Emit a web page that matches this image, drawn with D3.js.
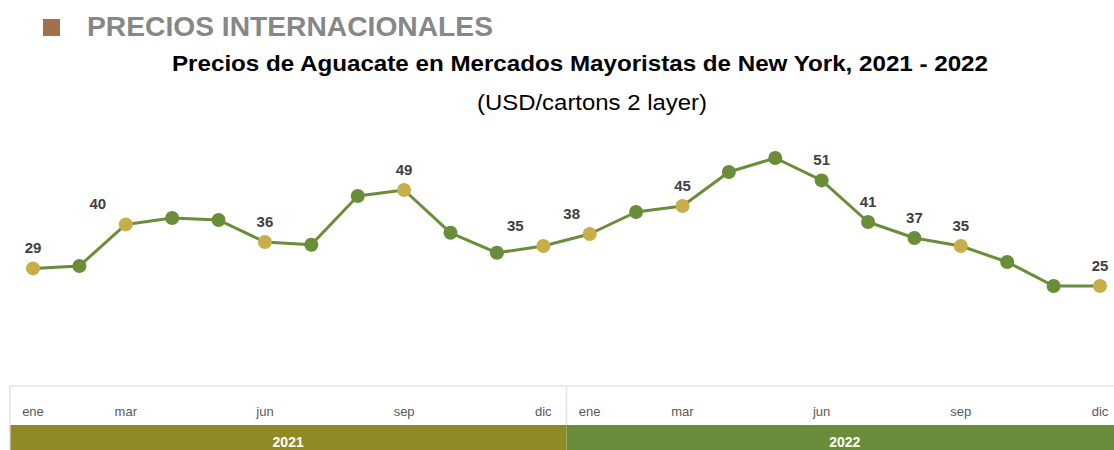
<!DOCTYPE html>
<html>
<head>
<meta charset="utf-8">
<script src="https://cdn.jsdelivr.net/npm/d3@7"></script>
<style>
  body { margin: 0; background: #fff; }
  svg { display: block; font-family: "Liberation Sans", Arial, sans-serif; }
</style>
</head>
<body>
<script>
const width = 1114;
const height = 450;

// data
const years = ['2021', '2022'];
const months = ['ene', 'feb', 'mar', 'abr', 'may', 'jun', 'jul', 'ago', 'sep', 'oct', 'nov', 'dic'];
const shownMonths = ['ene', 'mar', 'jun', 'sep', 'dic'];
const prices2021 = [29.4, 30, 40.4, 42, 41.5, 36, 35.3, 47.5, 49, 38.3, 33.3, 35];
const prices2022 = [38, 43.5, 45, 53.5, 57, 51.4, 41, 37, 35, 31, 25, 25];
// points drawn in gold, and the ones that carry a value label
const highlighted = [0, 2, 5, 8, 11, 12, 14, 20, 23];
const labelled = [0, 2, 5, 8, 11, 12, 14, 17, 18, 19, 20, 23];

const prices = prices2021.concat(prices2022);
const data = prices.map((v, i) => ({
  i: i,
  value: v,
  month: months[i % 12],
  year: years[Math.floor(i / 12)]
}));

// small nudges for labels that sit to the left of their point
const labelDx = { 2: -28, 11: -28, 12: -18 };

const green = '#6a8d3a';
const gold = '#c8ae4b';

const svg = d3.select('body').append('svg')
  .attr('width', width)
  .attr('height', height);

const x = d3.scalePoint()
  .domain(d3.range(data.length))
  .range([33, 1100]);

const y = d3.scaleLinear()
  .domain([0, 60])
  .range([386, 146]);

const step = x.step();

// header
svg.append('rect')
  .attr('x', 43).attr('y', 19)
  .attr('width', 17).attr('height', 17)
  .attr('fill', '#a0714a');

svg.append('text')
  .attr('x', 87).attr('y', 36)
  .attr('font-size', 27).attr('font-weight', 'bold')
  .attr('fill', '#878787')
  .attr('textLength', 406).attr('lengthAdjust', 'spacingAndGlyphs')
  .text('PRECIOS INTERNACIONALES');

svg.append('text')
  .attr('x', 580).attr('y', 71)
  .attr('text-anchor', 'middle')
  .attr('font-size', 22).attr('font-weight', 'bold')
  .attr('fill', '#000')
  .attr('textLength', 816).attr('lengthAdjust', 'spacingAndGlyphs')
  .text('Precios de Aguacate en Mercados Mayoristas de New York, 2021 - 2022');

svg.append('text')
  .attr('x', 592).attr('y', 110)
  .attr('text-anchor', 'middle')
  .attr('font-size', 22)
  .attr('fill', '#000')
  .attr('textLength', 230).attr('lengthAdjust', 'spacingAndGlyphs')
  .text('(USD/cartons 2 layer)');

// bottom category table
const axisTop = y(0);
const bandTop = 425;
const left = x(0) - step / 2;
const right = x(data.length - 1) + step / 2;
const split = (x(11) + x(12)) / 2;

const axis = svg.append('g').attr('class', 'axis');

axis.selectAll('.year-band')
  .data(years)
  .enter().append('rect')
    .attr('class', 'year-band')
    .attr('x', (d, k) => k === 0 ? left : split)
    .attr('y', bandTop)
    .attr('width', (d, k) => k === 0 ? split - left : right - split)
    .attr('height', height - bandTop)
    .attr('fill', (d, k) => k === 0 ? '#8f8a24' : '#6a8c3b');

axis.selectAll('.year-label')
  .data(years)
  .enter().append('text')
    .attr('class', 'year-label')
    .attr('x', (d, k) => k === 0 ? (left + split) / 2 : (split + right) / 2)
    .attr('y', 447)
    .attr('text-anchor', 'middle')
    .attr('font-size', 14).attr('font-weight', 'bold')
    .attr('fill', '#fff')
    .text(d => d);

axis.append('line')
  .attr('x1', left).attr('x2', width)
  .attr('y1', axisTop).attr('y2', axisTop)
  .attr('stroke', '#e3e3e3').attr('stroke-width', 1.5);

axis.append('line')
  .attr('x1', left).attr('x2', left)
  .attr('y1', axisTop).attr('y2', height)
  .attr('stroke', '#e3e3e3').attr('stroke-width', 1.5);

axis.append('line')
  .attr('x1', split).attr('x2', split)
  .attr('y1', axisTop).attr('y2', bandTop)
  .attr('stroke', '#e3e3e3').attr('stroke-width', 1.5);

axis.selectAll('.month')
  .data(data.filter(d => shownMonths.includes(d.month)))
  .enter().append('text')
    .attr('class', 'month')
    .attr('x', d => x(d.i))
    .attr('y', 416)
    .attr('text-anchor', 'middle')
    .attr('font-size', 13)
    .attr('fill', '#595959')
    .text(d => d.month);

// the series
const line = d3.line()
  .x(d => x(d.i))
  .y(d => y(d.value));

svg.append('path')
  .datum(data)
  .attr('d', line)
  .attr('fill', 'none')
  .attr('stroke', green)
  .attr('stroke-width', 3)
  .attr('stroke-linejoin', 'round');

svg.append('g')
  .selectAll('circle')
  .data(data)
  .enter().append('circle')
    .attr('cx', d => x(d.i))
    .attr('cy', d => y(d.value))
    .attr('r', 7)
    .attr('fill', d => highlighted.includes(d.i) ? gold : green);

const fmt = d3.format('.0f');

svg.append('g')
  .selectAll('text')
  .data(data.filter(d => labelled.includes(d.i)))
  .enter().append('text')
    .attr('x', d => x(d.i) + (labelDx[d.i] || 0))
    .attr('y', d => y(d.value) - 15)
    .attr('text-anchor', 'middle')
    .attr('font-size', 15).attr('font-weight', 'bold')
    .attr('fill', '#404040')
    .text(d => fmt(d.value));
</script>
</body>
</html>
